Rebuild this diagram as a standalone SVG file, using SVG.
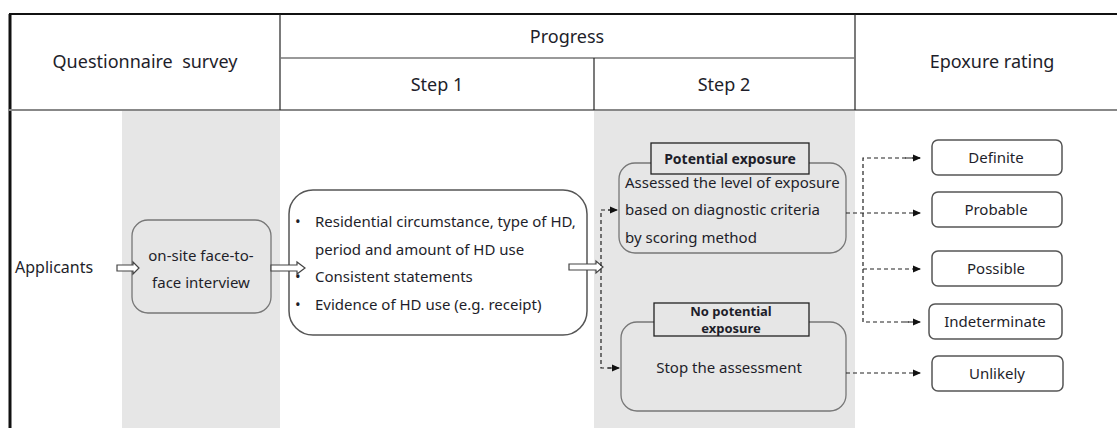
<svg xmlns="http://www.w3.org/2000/svg" width="1117" height="428" viewBox="0 0 1117 428">
<style>
text{font-family:"Noto Sans","Open Sans","DejaVu Sans",sans-serif;fill:#1e1e2a}
.h{font-size:18px;text-anchor:middle}
.t{font-size:15px}
.c{text-anchor:middle}
.b{font-weight:bold;font-size:14px;text-anchor:middle}
.grid{stroke:#222;stroke-width:1.2;fill:none}
.box{fill:#fff;stroke:#555;stroke-width:1.5}
.gbox{fill:#e6e6e6;stroke:#777;stroke-width:1.3}
.lab{fill:#e6e6e6;stroke:#222;stroke-width:1.3}
.dash{fill:none;stroke:#222;stroke-width:1.2;stroke-dasharray:4 3}
.hollow{fill:#fff;stroke:#444;stroke-width:1.2}
</style>
<defs>
<marker id="ah" markerWidth="8" markerHeight="8" refX="7" refY="4" orient="auto" markerUnits="userSpaceOnUse">
<path d="M0,0.5 L8,4 L0,7.5 Z" fill="#111"/>
</marker>
</defs>
<rect width="1117" height="428" fill="#fff"/>
<g id="bands">
<rect x="122" y="111" width="158" height="317" fill="#e6e6e6"/>
<rect x="594" y="111" width="261" height="317" fill="#e6e6e6"/>
</g>
<g id="table">
<line x1="9" y1="14" x2="1117" y2="14" stroke="#111" stroke-width="2"/>
<line x1="10" y1="14" x2="10" y2="428" stroke="#111" stroke-width="3"/>
<line x1="9" y1="110" x2="1117" y2="110" stroke="#888" stroke-width="2"/>
<line class="grid" x1="280" y1="14" x2="280" y2="110"/>
<line class="grid" x1="855" y1="14" x2="855" y2="110"/>
<line x1="280" y1="58" x2="855" y2="58" stroke="#777" stroke-width="1.5"/>
<line class="grid" x1="594" y1="58" x2="594" y2="110"/>
<text class="h" x="145" y="68" style="white-space:pre">Questionnaire  survey</text>
<text class="h" x="567" y="43">Progress</text>
<text class="h" x="437" y="91">Step 1</text>
<text class="h" x="724" y="91">Step 2</text>
<text class="h" x="992" y="68">Epoxure rating</text>
</g>
<g id="applicants">
<text class="t" x="15" y="273" style="font-size:16px">Applicants</text>
</g>
<g id="interview">
<rect class="gbox" x="132" y="220" width="139" height="93" rx="16"/>
<text class="t c" x="201" y="261">on-site face-to-</text>
<text class="t c" x="201" y="288">face interview</text>
</g>
<g id="step1">
<rect class="box" x="289" y="190" width="298" height="145" rx="24"/>
<g class="t">
<text x="295" y="227">•</text><text x="315" y="227">Residential circumstance, type of HD,</text>
<text x="315" y="255">period and amount of HD use</text>
<text x="295" y="282">•</text><text x="315" y="282">Consistent statements</text>
<text x="295" y="310">•</text><text x="315" y="310">Evidence of HD use (e.g. receipt)</text>
</g>
</g>
<g id="potential">
<rect class="gbox" x="619" y="163" width="227" height="90" rx="16"/>
<rect class="lab" x="651" y="143" width="158" height="31"/>
<text class="b" x="730" y="164">Potential exposure</text>
<text class="t" x="625" y="188">Assessed the level of exposure</text>
<text class="t" x="625" y="215">based on diagnostic criteria</text>
<text class="t" x="625" y="243">by scoring method</text>
</g>
<g id="nopotential">
<rect class="gbox" x="621" y="322" width="225" height="89" rx="16"/>
<rect class="lab" x="654" y="303" width="155" height="33"/>
<text class="b" x="731" y="316" style="font-size:13px">No potential</text>
<text class="b" x="731" y="333" style="font-size:13px">exposure</text>
<text class="t c" x="729" y="373">Stop the assessment</text>
</g>
<g id="ratings">
<rect class="box" x="932" y="140" width="130" height="35" rx="6"/>
<text class="t c" x="996" y="163">Definite</text>
<rect class="box" x="932" y="192" width="130" height="35" rx="6"/>
<text class="t c" x="996" y="215">Probable</text>
<rect class="box" x="932" y="251" width="130" height="35" rx="6"/>
<text class="t c" x="996" y="274">Possible</text>
<rect class="box" x="929" y="304" width="133" height="35" rx="6"/>
<text class="t c" x="995" y="327">Indeterminate</text>
<rect class="box" x="932" y="356" width="131" height="35" rx="6"/>
<text class="t c" x="997" y="379">Unlikely</text>
</g>
<g id="connectors">
<path class="hollow" d="M117,265 L133,265 L133,262 L139,268 L133,274 L133,271 L117,271 Z"/>
<path class="hollow" d="M271,265 L297,265 L297,262 L305,268 L297,274 L297,271 L271,271 Z"/>
<path class="hollow" d="M569,264 L596,264 L596,261 L603,267 L596,273 L596,270 L569,270 Z"/>
<path class="dash" d="M612,210 L601,210 L601,368 L612,368"/>
<path class="dash" d="M608,210 L617,210" marker-end="url(#ah)"/>
<path class="dash" d="M608,368 L619,368" marker-end="url(#ah)"/>
<path class="dash" d="M846,213 L920,213" marker-end="url(#ah)"/>
<path class="dash" d="M920,158 L863,158 L863,322 L920,322"/>
<path class="dash" d="M905,158 L920,158" marker-end="url(#ah)"/>
<path class="dash" d="M863,269 L920,269" marker-end="url(#ah)"/>
<path class="dash" d="M905,322 L920,322" marker-end="url(#ah)"/>
<path class="dash" d="M846,373 L920,373" marker-end="url(#ah)"/>
</g>
</svg>
